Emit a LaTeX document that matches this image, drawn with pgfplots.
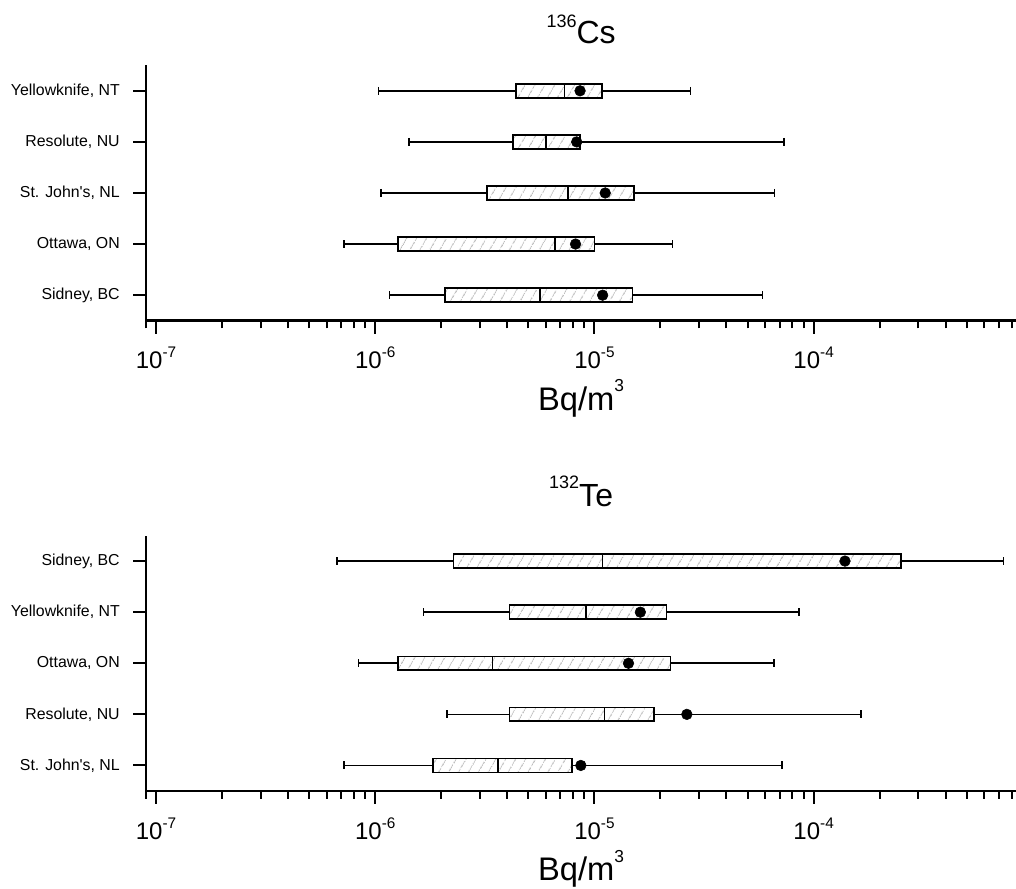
\documentclass[border=0pt]{standalone}
\usepackage{fontspec}
\setmainfont{Liberation Sans}
\usepackage{pgfplots}
\pgfplotsset{compat=1.18}
\usetikzlibrary{patterns.meta}

\newcommand{\tsup}[1]{\raisebox{8.3pt}{\fontsize{11.5}{12}\selectfont #1}}
% #1 y, #2 ylo, #3 yhi, #4 low whisker, #5 q1, #6 median, #7 q3, #8 high whisker, #9 mean
\newcommand{\brow}[9]{%
  \addplot[black, line width=1.25pt, mark=|, mark size=3pt, mark options={solid}] coordinates {(#4,#1) (#8,#1)};
  \addplot[draw=black, line width=1.2pt, preaction={fill=white},
    pattern={Lines[angle=60,distance=6.5pt,line width=0.5pt]}, pattern color=gray!80]
    coordinates {(#5,#2) (#7,#2) (#7,#3) (#5,#3)} -- cycle;
  \addplot[black, line width=1.2pt] coordinates {(#6,#2) (#6,#3)};
  \addplot[only marks, mark=*, mark size=4pt, black] coordinates {(#9,#1)};
}

\begin{document}
\begin{tikzpicture}
\path[use as bounding box] (-109.5pt,-72.75pt) rectangle (652.5pt,593.25pt);

% Top panel: 136Cs
\begin{axis}[
  xmode=log, scale only axis, width=652.7pt, height=191.6pt,
  xmin=9e-8, xmax=8.4e-4, ymin=0.5, ymax=5.5,
  axis lines*=left, axis line style={line width=2pt, -},
  tick align=outside,
  xtick={1e-7,1e-6,1e-5,1e-4},
  xticklabels={10\tsup{-7},10\tsup{-6},10\tsup{-5},10\tsup{-4}},
  minor xtick={9e-8,2e-7,3e-7,4e-7,5e-7,6e-7,7e-7,8e-7,9e-7,
               2e-6,3e-6,4e-6,5e-6,6e-6,7e-6,8e-6,9e-6,
               2e-5,3e-5,4e-5,5e-5,6e-5,7e-5,8e-5,9e-5,
               2e-4,3e-4,4e-4,5e-4,6e-4,7e-4,8e-4},
  ytick={1,2,3,4,5},
  major tick length=9.7pt, minor tick length=5.8pt,
  every major tick/.append style={line width=1.5pt, black},
  every minor tick/.append style={line width=1.5pt, black},
  xticklabel style={font=\fontsize{18}{18}\selectfont, anchor=base, yshift=-26.5pt},
  yticklabel style={font=\fontsize{11.9}{12}\selectfont, anchor=east, inner sep=0pt, xshift=-9.8pt},
  xlabel={Bq/m\raisebox{13.7pt}{\fontsize{13}{13}\selectfont 3}},
  xlabel style={at={(axis description cs:0.5,0)}, anchor=base, yshift=-67pt, font=\fontsize{24.5}{25}\selectfont},
  clip=false,
  at={(0pt,352.7pt)}, anchor=south west,
  title={\raisebox{12pt}{\fontsize{13.5}{14}\selectfont 136}Cs},
  title style={at={(axis description cs:0.5,1)}, anchor=base, yshift=10.4pt, font=\fontsize{24}{24}\selectfont},
  yticklabels={{Sidney, BC},{Ottawa, ON},{St. John\textquotesingle s, NL},{Resolute, NU},{Yellowknife, NT}}]
\brow{5}{4.865}{5.135}{1.035e-6}{4.39e-6}{7.3e-6}{1.08e-5}{2.74e-5}{8.6e-6}
\brow{4}{3.865}{4.135}{1.43e-6}{4.25e-6}{6.0e-6}{8.6e-6}{7.32e-5}{8.3e-6}
\brow{3}{2.865}{3.135}{1.065e-6}{3.24e-6}{7.57e-6}{1.52e-5}{6.63e-5}{1.12e-5}
\brow{2}{1.865}{2.135}{7.22e-7}{1.27e-6}{6.62e-6}{1.0e-5}{2.27e-5}{8.2e-6}
\brow{1}{0.865}{1.135}{1.16e-6}{2.08e-6}{5.64e-6}{1.49e-5}{5.85e-5}{1.09e-5}
\end{axis}

% Bottom panel: 132Te
\begin{axis}[
  xmode=log, scale only axis, width=652.7pt, height=191.6pt,
  xmin=9e-8, xmax=8.4e-4, ymin=0.5, ymax=5.5,
  axis lines*=left, axis line style={line width=2pt, -},
  tick align=outside,
  xtick={1e-7,1e-6,1e-5,1e-4},
  xticklabels={10\tsup{-7},10\tsup{-6},10\tsup{-5},10\tsup{-4}},
  minor xtick={9e-8,2e-7,3e-7,4e-7,5e-7,6e-7,7e-7,8e-7,9e-7,
               2e-6,3e-6,4e-6,5e-6,6e-6,7e-6,8e-6,9e-6,
               2e-5,3e-5,4e-5,5e-5,6e-5,7e-5,8e-5,9e-5,
               2e-4,3e-4,4e-4,5e-4,6e-4,7e-4,8e-4},
  ytick={1,2,3,4,5},
  major tick length=9.7pt, minor tick length=5.8pt,
  every major tick/.append style={line width=1.5pt, black},
  every minor tick/.append style={line width=1.5pt, black},
  xticklabel style={font=\fontsize{18}{18}\selectfont, anchor=base, yshift=-26.5pt},
  yticklabel style={font=\fontsize{11.9}{12}\selectfont, anchor=east, inner sep=0pt, xshift=-9.8pt},
  xlabel={Bq/m\raisebox{13.7pt}{\fontsize{13}{13}\selectfont 3}},
  xlabel style={at={(axis description cs:0.5,0)}, anchor=base, yshift=-67pt, font=\fontsize{24.5}{25}\selectfont},
  clip=false,
  at={(0pt,0pt)}, anchor=south west,
  title={\raisebox{14pt}{\fontsize{13.5}{14}\selectfont 132}Te},
  title style={at={(axis description cs:0.5,1)}, anchor=base, yshift=15.6pt, font=\fontsize{24}{24}\selectfont},
  yticklabels={{St. John\textquotesingle s, NL},{Resolute, NU},{Ottawa, ON},{Yellowknife, NT},{Sidney, BC}}]
\brow{5}{4.865}{5.135}{6.71e-7}{2.28e-6}{1.09e-5}{2.51e-4}{7.35e-4}{1.39e-4}
\brow{4}{3.865}{4.135}{1.66e-6}{4.1e-6}{9.15e-6}{2.13e-5}{8.6e-5}{1.62e-5}
\brow{3}{2.865}{3.135}{8.4e-7}{1.27e-6}{3.43e-6}{2.22e-5}{6.61e-5}{1.43e-5}
\brow{2}{1.865}{2.135}{2.12e-6}{4.1e-6}{1.11e-5}{1.87e-5}{1.64e-4}{2.64e-5}
\brow{1}{0.865}{1.135}{7.22e-7}{1.83e-6}{3.63e-6}{7.89e-6}{7.16e-5}{8.67e-6}
\end{axis}
\end{tikzpicture}
\end{document}
